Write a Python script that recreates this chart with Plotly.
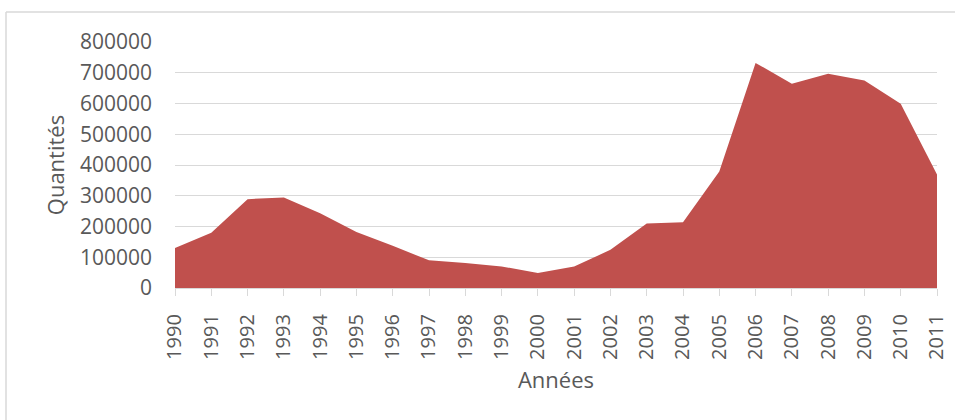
import plotly.graph_objects as go

years = list(range(1990, 2012))
quantites = [130000, 180000, 289000, 294000, 243000, 182000, 137000, 90000, 81000, 70000,
             49000, 70000, 124000, 210000, 214000, 379000, 732000, 664000, 697000, 675000,
             599000, 369000]
y_ticks = [0, 100000, 200000, 300000, 400000, 500000, 600000, 700000, 800000]

W, H = 955, 420
L, R, T, B = 175, 18, 42, 132
pw, ph = W - L - R, H - T - B

FONT = "Open Sans"
TXT = "#595959"
GRID = "#d9d9d9"

fig = go.Figure()
fig.add_trace(go.Scatter(
    x=years, y=quantites, mode="lines", fill="tozeroy",
    line=dict(width=0, color="#C0504D"), fillcolor="#C0504D",
    hoverinfo="x+y", showlegend=False,
))

def px_x(v):
    return (v - L) / pw

def px_y(v):
    return (H - B - v) / ph

fig.update_layout(
    width=W, height=H,
    margin=dict(l=L, r=R, t=T, b=B, pad=0, autoexpand=False),
    paper_bgcolor="white", plot_bgcolor="white",
    font=dict(family=FONT, color=TXT),
    xaxis=dict(
        range=[1990, 2011], tickmode="array", tickvals=years,
        ticktext=[str(y) for y in years], tickangle=-90,
        tickfont=dict(size=20, color=TXT, family=FONT),
        ticks="outside", ticklen=7, tickcolor=GRID, tickwidth=1.3,
        showgrid=False, zeroline=False, showline=True, linecolor=GRID, linewidth=1.3,
        ticklabelstandoff=10, automargin=False,
        title=dict(text="Années", font=dict(size=22, color=TXT, family=FONT), standoff=13),
    ),
    yaxis=dict(
        range=[0, 800000], tickmode="array", tickvals=y_ticks,
        ticktext=[str(v) for v in y_ticks],
        tickfont=dict(size=21, color=TXT, family=FONT),
        showgrid=True, gridcolor=GRID, gridwidth=1.3, zeroline=False, showline=False,
        ticks="", ticklabelstandoff=22, automargin=False,
        title=dict(text="Quantités", font=dict(size=22, color=TXT, family=FONT), standoff=9),
    ),
    shapes=[
        dict(type="line", xref="paper", yref="paper",
             x0=px_x(6), x1=px_x(W + 5), y0=px_y(12), y1=px_y(12),
             line=dict(color=GRID, width=1.5)),
        dict(type="line", xref="paper", yref="paper",
             x0=px_x(6), x1=px_x(6), y0=px_y(12), y1=px_y(H + 5),
             line=dict(color=GRID, width=1.5)),
    ],
)

fig.write_html("out.html", config={"displayModeBar": False},
               post_script="document.body.style.margin='0';document.body.style.overflow='hidden';")
